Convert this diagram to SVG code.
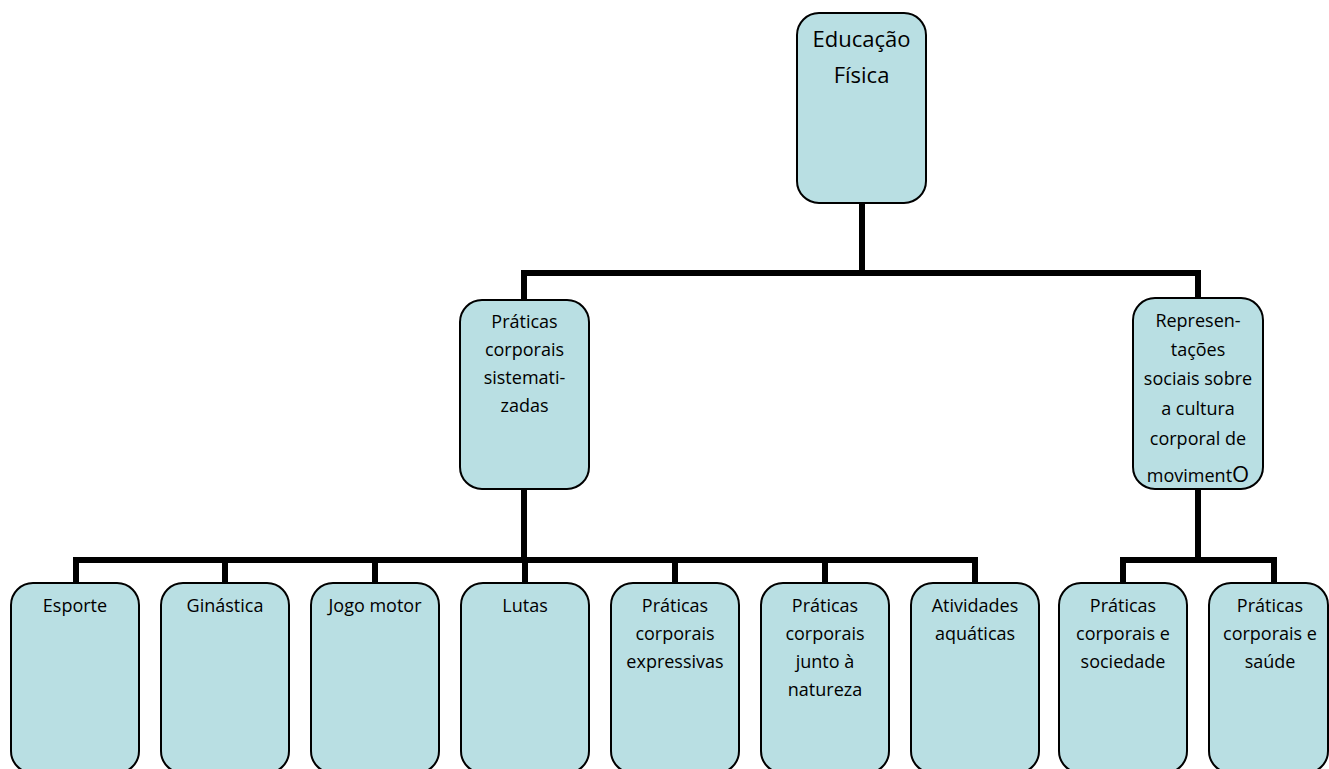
<svg xmlns="http://www.w3.org/2000/svg" width="1329" height="769" viewBox="0 0 1329 769">
<style>
.box{fill:#b9dfe3;stroke:#000;stroke-width:2}
.t{font-family:"Open Sans","Noto Sans",sans-serif;font-size:18px;fill:#000;text-anchor:middle}
.big{font-size:22px}
.c{fill:none;stroke:#000;stroke-width:6;stroke-linejoin:miter;stroke-linecap:butt}
</style>
<rect width="1329" height="769" fill="#fff"/>
<g id="connectors">
<path class="c" d="M862,203 V273 M521,273 H1201 M524,270 V300 M1198,270 V298"/>
<path class="c" d="M524,489 V560 M73,560 H978 M76,557 V583 M225,557 V583 M375,557 V583 M525,557 V583 M675,557 V583 M825,557 V583 M975,557 V583"/>
<path class="c" d="M1198,489 V560 M1120,560 H1277 M1123,557 V583 M1274,557 V583"/>
</g>
<g id="n-educacao"><rect class="box" x="797" y="13" width="129" height="190" rx="22"/>
<text class="t big" x="861.5" y="47">Educação</text><text class="t big" x="861.5" y="83">Física</text></g>
<g id="n-praticas-sist"><rect class="box" x="460" y="300" width="129" height="189" rx="22"/>
<text class="t" x="524.5" y="328">Práticas</text><text class="t" x="524.5" y="356">corporais</text><text class="t" x="524.5" y="384">sistemati-</text><text class="t" x="524.5" y="412">zadas</text></g>
<g id="n-representacoes"><rect class="box" x="1133" y="298" width="130" height="191" rx="22"/>
<text class="t" x="1198" y="327">Represen-</text><text class="t" x="1198" y="356">tações</text><text class="t" x="1198" y="385">sociais sobre</text><text class="t" x="1198" y="415">a cultura</text><text class="t" x="1198" y="445">corporal de</text><text class="t" x="1198" y="482">moviment<tspan font-size="22">O</tspan></text></g>
<g id="n-esporte"><rect class="box" x="11" y="583" width="128" height="190" rx="22"/><text class="t" x="75" y="612">Esporte</text></g>
<g id="n-ginastica"><rect class="box" x="161" y="583" width="128" height="190" rx="22"/><text class="t" x="225" y="612">Ginástica</text></g>
<g id="n-jogo"><rect class="box" x="311" y="583" width="128" height="190" rx="22"/><text class="t" x="375" y="612">Jogo motor</text></g>
<g id="n-lutas"><rect class="box" x="461" y="583" width="128" height="190" rx="22"/><text class="t" x="525" y="612">Lutas</text></g>
<g id="n-expressivas"><rect class="box" x="611" y="583" width="128" height="190" rx="22"/><text class="t" x="675" y="612">Práticas</text><text class="t" x="675" y="640">corporais</text><text class="t" x="675" y="668">expressivas</text></g>
<g id="n-natureza"><rect class="box" x="761" y="583" width="128" height="190" rx="22"/><text class="t" x="825" y="612">Práticas</text><text class="t" x="825" y="640">corporais</text><text class="t" x="825" y="668">junto à</text><text class="t" x="825" y="696">natureza</text></g>
<g id="n-aquaticas"><rect class="box" x="911" y="583" width="128" height="190" rx="22"/><text class="t" x="975" y="612">Atividades</text><text class="t" x="975" y="640">aquáticas</text></g>
<g id="n-sociedade"><rect class="box" x="1059" y="583" width="128" height="190" rx="22"/><text class="t" x="1123" y="612">Práticas</text><text class="t" x="1123" y="640">corporais e</text><text class="t" x="1123" y="668">sociedade</text></g>
<g id="n-saude"><rect class="box" x="1209" y="583" width="119" height="190" rx="22"/><text class="t" x="1270" y="612">Práticas</text><text class="t" x="1270" y="640">corporais e</text><text class="t" x="1270" y="668">saúde</text></g>
</svg>
